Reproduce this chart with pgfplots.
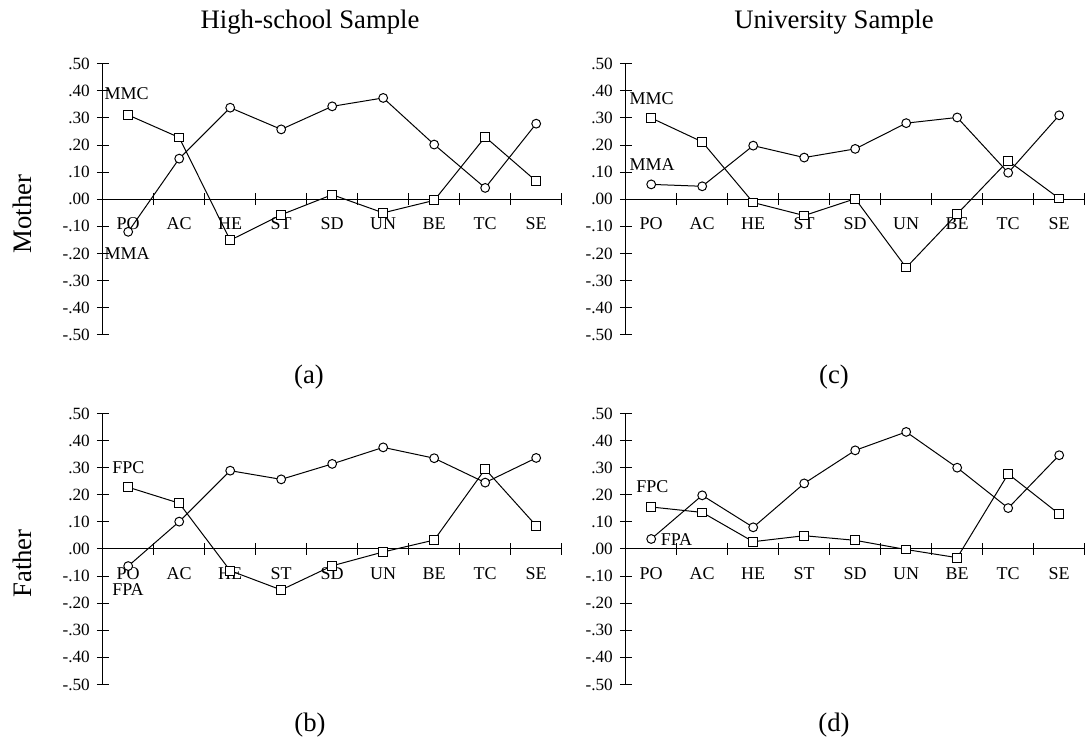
\documentclass[border=0pt]{standalone}
\usepackage{fontspec}
\setmainfont{Liberation Serif}
\usepackage{pgfplots}
\pgfplotsset{compat=1.18}
\pgfplotsset{
 panel/.style={
  scale only axis, width=229.5pt, height=135.5pt,
  anchor=south west,
  xmin=0.5, xmax=9.5, ymin=-0.5, ymax=0.5,
  axis x line*=middle, axis y line*=left,
  xtick={1,2,3,4,5,6,7,8,9},
  xticklabels={PO,AC,HE,ST,SD,UN,BE,TC,SE},
  major x tick style={draw=none},
  minor xtick={1.5,2.5,3.5,4.5,5.5,6.5,7.5,8.5,9.5},
  ytick={-0.5,-0.4,-0.3,-0.2,-0.1,0,0.1,0.2,0.3,0.4,0.5},
  yticklabels={-.50,-.40,-.30,-.20,-.10,.00,.10,.20,.30,.40,.50},
  tick align=center,
  major tick length=5.85pt, minor tick length=5.85pt,
  axis line style={line width=0.5pt, black},
  every tick/.append style={line width=0.5pt, black},
  yticklabel style={font=\fontsize{8.6}{10}\selectfont},
  xticklabel style={font=\fontsize{9}{10}\selectfont, anchor=base, yshift=-12.3pt},
  clip=false,
 },
}
\tikzset{
 circ/.style={black, line width=0.5pt, mark=*, mark size=2.2pt, mark options={fill=white, line width=0.5pt}},
 sq/.style={black, line width=0.5pt, mark=square*, mark size=2.2pt, mark options={fill=white, line width=0.5pt}},
 lab/.style={anchor=west, inner sep=0pt, font=\fontsize{9}{10}\selectfont},
}
\begin{document}
\begin{tikzpicture}[x=1pt,y=1pt]
\useasboundingbox (0,0) rectangle (543.5,369);
% (a) High-school, Mother
\begin{axis}[panel, at={(51.35pt,201.6pt)}]
\addplot[circ] coordinates {(1,-0.12) (2,0.150) (3,0.338) (4,0.258) (5,0.343) (6,0.374) (7,0.202) (8,0.042) (9,0.279)};
\addplot[sq] coordinates {(1,0.311) (2,0.228) (3,-0.151) (4,-0.057) (5,0.017) (6,-0.050) (7,-0.004) (8,0.230) (9,0.067)};
\node[lab] at (axis cs:0.53,0.39) {MMC};
\node[lab] at (axis cs:0.53,-0.20) {MMA};
\end{axis}
% (c) University, Mother
\begin{axis}[panel, at={(312.85pt,201.6pt)}]
\addplot[circ] coordinates {(1,0.055) (2,0.048) (3,0.198) (4,0.154) (5,0.186) (6,0.281) (7,0.302) (8,0.098) (9,0.310)};
\addplot[sq] coordinates {(1,0.300) (2,0.212) (3,-0.012) (4,-0.060) (5,0.002) (6,-0.252) (7,-0.054) (8,0.142) (9,0.003)};
\node[lab] at (axis cs:0.57,0.373) {MMC};
\node[lab] at (axis cs:0.57,0.129) {MMA};
\end{axis}
% (b) High-school, Father
\begin{axis}[panel, at={(51.35pt,26.75pt)}]
\addplot[circ] coordinates {(1,-0.063) (2,0.101) (3,0.289) (4,0.257) (5,0.314) (6,0.375) (7,0.335) (8,0.245) (9,0.336)};
\addplot[sq] coordinates {(1,0.228) (2,0.169) (3,-0.080) (4,-0.151) (5,-0.062) (6,-0.011) (7,0.033) (8,0.295) (9,0.086)};
\node[lab] at (axis cs:0.68,0.30) {FPC};
\node[lab] at (axis cs:0.68,-0.151) {FPA};
\end{axis}
% (d) University, Father
\begin{axis}[panel, at={(312.85pt,26.75pt)}]
\addplot[circ] coordinates {(1,0.037) (2,0.198) (3,0.080) (4,0.242) (5,0.364) (6,0.432) (7,0.300) (8,0.151) (9,0.346)};
\addplot[sq] coordinates {(1,0.155) (2,0.135) (3,0.027) (4,0.049) (5,0.032) (6,-0.002) (7,-0.032) (8,0.277) (9,0.129)};
\node[lab] at (axis cs:0.70,0.23) {FPC};
\node[lab] at (axis cs:1.18,0.033) {FPA};
\end{axis}
% titles and captions
\node[font=\fontsize{13.35}{15}\selectfont, anchor=base] at (155,354.8) {High-school Sample};
\node[font=\fontsize{13.35}{15}\selectfont, anchor=base] at (417,354.8) {University Sample};
\node[font=\fontsize{13.35}{15}\selectfont] at (154.5,180.35) {(a)};
\node[font=\fontsize{13.35}{15}\selectfont] at (417,180.35) {(c)};
\node[font=\fontsize{13.35}{15}\selectfont] at (155,6.5) {(b)};
\node[font=\fontsize{13.35}{15}\selectfont] at (417,6.5) {(d)};
\node[font=\fontsize{13.35}{15}\selectfont, rotate=90, anchor=base] at (15.85,262) {Mother};
\node[font=\fontsize{13.35}{15}\selectfont, rotate=90, anchor=base] at (15.85,87.25) {Father};
\end{tikzpicture}
\end{document}
